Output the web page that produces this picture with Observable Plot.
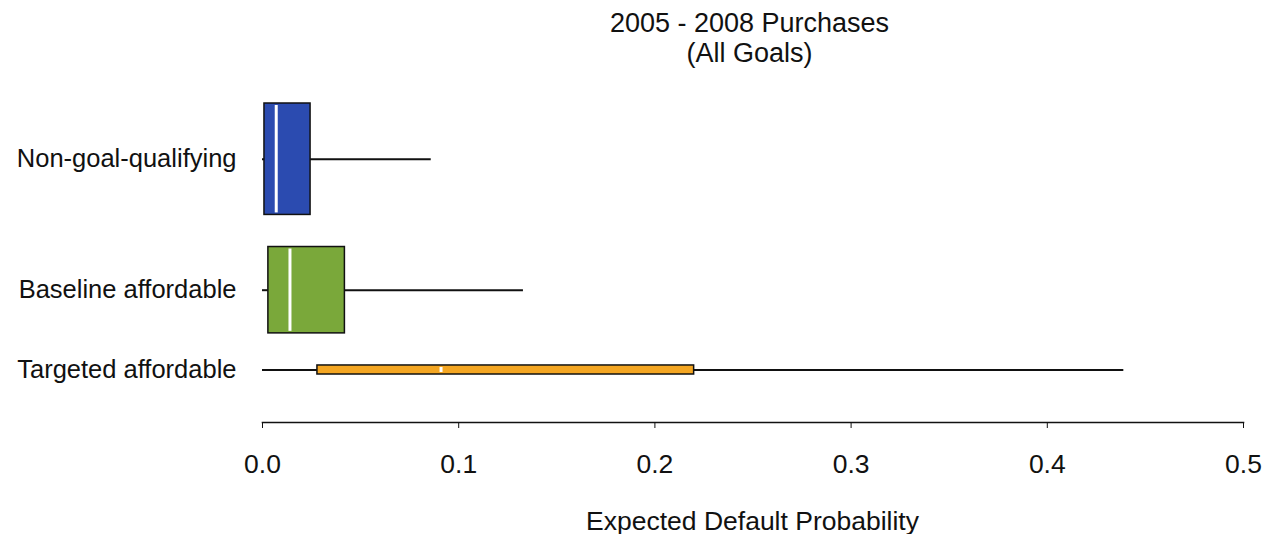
<!DOCTYPE html>
<html>
<head>
<meta charset="utf-8">
<script src="https://cdn.jsdelivr.net/npm/d3@7"></script>
<script src="https://cdn.jsdelivr.net/npm/@observablehq/plot@0.6"></script>
<style>
  html, body { margin: 0; padding: 0; background: #fff; }
  #wrap { position: relative; width: 1267px; height: 534px; font-family: "Liberation Sans", Arial, sans-serif; color: #111; }
  #title { position: absolute; left: 262px; top: 8px; width: 975px; text-align: center; font-size: 27px; line-height: 30px; z-index: 2; }
  #xlabel { position: absolute; left: 262px; width: 981px; top: 506px; text-align: center; font-size: 26.5px; line-height: normal; z-index: 2; }
  svg { position: absolute; left: 0; top: 0; }
</style>
</head>
<body>
<div id="wrap">
  <div id="title">2005 - 2008 Purchases<br>(All Goals)</div>
  <div id="xlabel">Expected Default Probability</div>
</div>
<script>
// Categories (top to bottom)
const categories = ["Non-goal-qualifying", "Baseline affordable", "Targeted affordable"];
// Box statistics (expected default probability)
const minVals    = [0.000, 0.000, 0.000];
const q1Vals     = [0.001, 0.003, 0.028];
const medianVals = [0.007, 0.014, 0.091];
const q3Vals     = [0.0245, 0.042, 0.220];
const maxVals    = [0.086, 0.133, 0.439];
// Relative box widths (varwidth, proportional to sqrt of group size)
const relWidth   = [1.0, 0.775, 0.081];
const xTicks     = [0, 0.1, 0.2, 0.3, 0.4, 0.5];
const colors     = ["#2b4bb0", "#7aa83a", "#f4a622"];

// Stack boxes with equal gaps between them
const gap = 0.288;
let cursor = 0;
const rows = categories.map((c, i) => {
  const top = cursor, bottom = top + relWidth[i];
  cursor = bottom + gap;
  return {
    cat: c, min: minVals[i], q1: q1Vals[i], med: medianVals[i], q3: q3Vals[i], max: maxVals[i],
    top, bottom, mid: (top + bottom) / 2, color: colors[i]
  };
});
const total = cursor - gap;

const plot = Plot.plot({
  width: 1267,
  height: 534,
  marginLeft: 262,
  marginRight: 24,
  marginTop: 103,
  marginBottom: 112,
  style: { fontFamily: "Liberation Sans, Arial, sans-serif", fontSize: "20px", color: "#111", background: "transparent" },
  x: { domain: [0, 0.5], axis: null },
  y: { type: "linear", domain: [0, total], range: [103, 374], axis: null },
  marks: [
    Plot.frame({ anchor: "bottom", stroke: "#111", strokeWidth: 1.6 }),
    Plot.axisX({ ticks: xTicks, tickFormat: d3.format(".1f"), tickSize: 6, tickPadding: 26, tickStrokeWidth: 1.6, stroke: "#111", fontSize: 26.5, label: null }),
    // whiskers
    Plot.ruleY(rows, { y: "mid", x1: "min", x2: "q1", stroke: "#111", strokeWidth: 2 }),
    Plot.ruleY(rows, { y: "mid", x1: "q3", x2: "max", stroke: "#111", strokeWidth: 2 }),
    // boxes
    Plot.rect(rows, { x1: "q1", x2: "q3", y1: "top", y2: "bottom", fill: "color", stroke: "#111", strokeWidth: 1.5 }),
    // medians
    Plot.ruleX(rows, { x: "med", y1: "top", y2: "bottom", stroke: "#fff", strokeWidth: 3, insetTop: 2, insetBottom: 2 }),
    // category labels
    Plot.text(rows, { x: () => 0, y: "mid", text: "cat", textAnchor: "end", dx: -26, fontSize: 25.5, fill: "#111" })
  ]
});
document.getElementById("wrap").appendChild(plot);
</script>
</body>
</html>
